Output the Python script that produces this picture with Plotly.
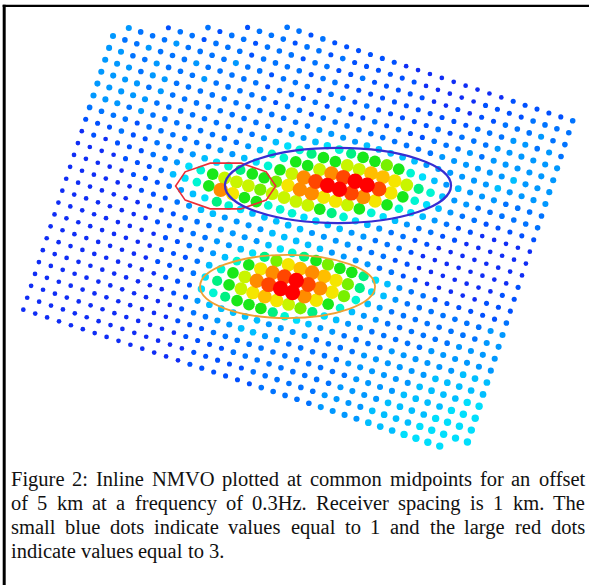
import math
import plotly.graph_objects as go

# ---------------- data ----------------
# NMVO values on the common-midpoint lattice, one string per crossline row
# (first row is crossline -5), one character per inline position.
# '.' = no midpoint; '0'..'f' = value level 0..15 (value 1 .. 3).
ROW_START = -5
LEVELS = "0123456789abcdef"
VALUE_MIN, VALUE_MAX = 1.0, 3.0
NMVO_ROWS = [
    "............." + "2212111111000000000111112",
    ".........." + "122212212111111" + "00000" + "1111" + "2222",
    "......." + "2122122212211211111" + "001011" + "222322",
    "...." + "1221222" + "12222122" + "11111111111" + "22233232",
    "." + "322232222322" + "12221221211111" + "21222333333",
    "322322232222" + "2122121211212112" + "2232333333",
    "332232223222" + "2212212222222222" + "3333334333",
    "333233222222" + "2222223333444443" + "3333343333",
    "333323222222" + "22223" + "3456788986543" + "43332222",
    "333332222222" + "223" + "456788aaccba7643" + "3222222",
    "3332322222222" + "346688adeffeb86543" + "2211111",
    "222212222" + "223345" + "68adeffedb86543" + "21100000",
    "1112112223" + "4567889bddbba86543" + "2211000000",
    "010111223" + "568aaa9aaaa876543" + "221100000000",
    "00001112" + "4568db88666554433" + "2221000000001",
    "0000011123" + "4576544444333322" + "211000000011",
    "0000001112" + "344333344444333322" + "1100000111",
    "00000001112" + "22333" + "3456789887543" + "221111112",
    "0000000011" + "122" + "334579bcdcb9754" + "3222222233",
    "0000000001122" + "3468bdefedb964" + "32222222233",
    "0000000001112" + "468adeffdb864" + "332222223333",
    "0000000001112" + "578abcba9754" + "3322222333333",
    "0000000000111" + "5678887654" + "332222333333444",
    "0000000000011" + "344444333" + "3222233333344444",
    "0000000000001" + "2233443322" + "222333333444455",
    "0000000000001" + "1122222222" + "222233334444555",
    "0000000000000" + "1111222222" + "222333344445555",
    "0000000000000" + "0111112222" + "223333444455555",
    "0000000000000" + "0111111222" + "2233334445555" + "..",
]

CAPTION_LINES = [
    "Figure 2: Inline NMVO plotted at common midpoints for an offset",
    "of 5 km at a frequency of 0.3Hz. Receiver spacing is 1 km. The",
    "small blue dots indicate values equal to 1 and the large red dots",
    "indicate values equal to 3.",
]
CAPTION_JUSTIFIED = [True, True, True, False]

# ---------------- geometry / style ----------------
W, H = 589, 585
PX_PER_KM = 12.52
ORIGIN_PX = (113.0, 36.0)          # pixel of lattice node (0, 0)
AZ = math.atan2(3.9, 11.9)         # lattice rotation on the map
CA, SA = math.cos(AZ), math.sin(AZ)

COLORS = [
    "rgb(15,45,245)", "rgb(0,80,255)", "rgb(0,115,255)", "rgb(0,152,255)",
    "rgb(0,190,255)", "rgb(0,222,252)", "rgb(0,245,210)", "rgb(0,240,130)",
    "rgb(25,232,25)", "rgb(120,240,0)", "rgb(200,245,0)", "rgb(245,230,0)",
    "rgb(255,190,0)", "rgb(255,140,0)", "rgb(255,70,0)", "rgb(255,0,0)",
]
SIZES = [4.7, 5.1, 5.6, 6.1, 6.7, 7.4, 8.7, 10.2, 11.7, 12.3, 12.9, 13.4,
         13.9, 14.4, 14.9, 15.4]
COLORSCALE = [[k / 15.0, c] for k, c in enumerate(COLORS)]

# ---------------- build points ----------------
pts = []
for r, row in enumerate(NMVO_ROWS):
    j = ROW_START + r
    for i, ch in enumerate(row):
        if ch not in LEVELS:
            continue
        lev = LEVELS.index(ch)
        v = VALUE_MIN + (VALUE_MAX - VALUE_MIN) * lev / 15.0
        x = i * CA - j * SA
        y = i * SA + j * CA
        pts.append((v, x, y, lev))
pts.sort(key=lambda p: p[0])

fig = go.Figure()
fig.add_trace(go.Scatter(
    x=[p[1] for p in pts],
    y=[p[2] for p in pts],
    mode="markers",
    marker=dict(
        color=[p[0] for p in pts],
        colorscale=COLORSCALE,
        cmin=VALUE_MIN, cmax=VALUE_MAX,
        size=[SIZES[p[3]] for p in pts],
        line=dict(width=0),
        opacity=1,
    ),
    hoverinfo="skip",
    showlegend=False,
))

shapes = []
# red polygonal outline (10-gon)
rc, rrx, rry = (9.0, 11.98), 4.0, 1.92
verts = []
for k in range(10):
    t = 2 * math.pi * k / 10
    verts.append((rc[0] + rrx * math.cos(t), rc[1] - rry * math.sin(t)))
path = "M " + " L ".join(f"{a:.3f},{b:.3f}" for a, b in verts) + " Z"
shapes.append(dict(type="path", path=path, xref="x", yref="y",
                   line=dict(color="rgb(235,45,55)", width=1.6)))
# blue ellipse
bc, brx, bry = (17.97, 11.94), 9.03, 3.0
shapes.append(dict(type="circle", xref="x", yref="y",
                   x0=bc[0] - brx, x1=bc[0] + brx, y0=bc[1] - bry, y1=bc[1] + bry,
                   line=dict(color="rgb(55,45,210)", width=2.2)))
# orange ellipse
oc, orx, ory = (13.94, 20.01), 6.99, 2.52
shapes.append(dict(type="circle", xref="x", yref="y",
                   x0=oc[0] - orx, x1=oc[0] + orx, y0=oc[1] - ory, y1=oc[1] + ory,
                   line=dict(color="rgb(240,160,50)", width=1.8)))

# frame (left and top edges visible)
shapes.append(dict(type="line", xref="paper", yref="paper",
                   x0=4.2 / W, x1=4.2 / W, y0=1 - 4.7 / H, y1=-0.05,
                   line=dict(color="black", width=3)))
shapes.append(dict(type="line", xref="paper", yref="paper",
                   x0=2.7 / W, x1=1.05, y0=1 - 5.9 / H, y1=1 - 5.9 / H,
                   line=dict(color="black", width=2.4)))

# ---------------- caption (justified like the source) ----------------
FONT = "Liberation Serif, Times New Roman, serif"
FS = 20.5
CW = {' ': 250, '.': 250, ':': 278, '0': 500, '1': 500, '2': 500, '3': 500,
      '5': 500, 'F': 556, 'H': 722, 'I': 333, 'M': 889, 'N': 722, 'O': 722,
      'R': 667, 'T': 611, 'V': 722, 'a': 444, 'b': 500, 'c': 444, 'd': 500,
      'e': 444, 'f': 333, 'g': 500, 'h': 500, 'i': 278, 'k': 500, 'l': 278,
      'm': 778, 'n': 500, 'o': 500, 'p': 500, 'q': 500, 'r': 333, 's': 389,
      't': 278, 'u': 500, 'v': 500, 'y': 500, 'z': 444}

def text_w(s):
    return sum(CW.get(c, 500) for c in s) * FS / 1000.0

LEFT, RIGHT = 10.7, 585.3
BASELINES = [486, 510, 534, 558]
annotations = []
for line, just, base in zip(CAPTION_LINES, CAPTION_JUSTIFIED, BASELINES):
    words = line.split(" ")
    ws = [text_w(w) for w in words]
    if just and len(words) > 1:
        gap = (RIGHT - LEFT - sum(ws)) / (len(words) - 1)
    else:
        gap = 250 * FS / 1000.0
    xpos = LEFT
    yc = base - 0.3375 * FS
    for w, ww in zip(words, ws):
        annotations.append(dict(
            text=w, x=xpos / W, y=1 - yc / H, xref="paper", yref="paper",
            xanchor="left", yanchor="middle", showarrow=False,
            borderpad=0, borderwidth=0,
            font=dict(family=FONT, size=FS, color="#111111"),
        ))
        xpos += ww + gap

fig.update_layout(
    width=W, height=H,
    margin=dict(l=0, r=0, t=0, b=0),
    paper_bgcolor="white", plot_bgcolor="white",
    xaxis=dict(range=[-ORIGIN_PX[0] / PX_PER_KM, (W - ORIGIN_PX[0]) / PX_PER_KM],
               visible=False, fixedrange=True),
    yaxis=dict(range=[(H - ORIGIN_PX[1]) / PX_PER_KM, -ORIGIN_PX[1] / PX_PER_KM],
               visible=False, fixedrange=True),
    shapes=shapes,
    annotations=annotations,
    showlegend=False,
)

fig.write_html("out.html")
